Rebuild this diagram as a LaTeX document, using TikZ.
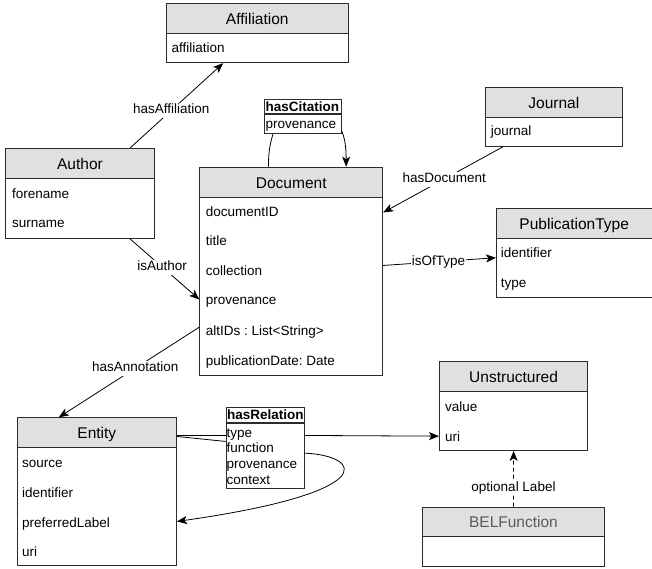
\documentclass[tikz,border=0pt]{standalone}
\usepackage{fontspec}
\setmainfont{Liberation Sans}
\usetikzlibrary{arrows.meta}
\frenchspacing
\definecolor{hdrfill}{HTML}{E0E0E0}
\definecolor{linec}{HTML}{2B2B2B}
\definecolor{belc}{HTML}{5A5A5A}
\tikzset{
  hdr/.style={draw=linec, fill=hdrfill, line width=0.9pt, inner sep=0pt, anchor=north west,
    font=\fontsize{15.5}{18}\selectfont, text height=12pt, text depth=0pt},
  bdy/.style={draw=linec, fill=white, line width=0.9pt, inner sep=0pt, anchor=north west},
  rowtxt/.style={anchor=west, inner sep=0pt, font=\fontsize{13.5}{16}\selectfont, text height=10pt, text depth=1pt},
  reltxt/.style={anchor=west, inner sep=0pt, font=\fontsize{13.5}{15}\selectfont, text height=10pt, text depth=1pt},
  lbl/.style={fill=white, inner sep=1pt, font=\fontsize{13.5}{16}\selectfont, text height=10pt, text depth=3pt},
  conn/.style={draw=black, line width=0.8pt},
  arr/.style={conn, -{Stealth[length=10pt,width=8pt,inset=2.5pt]}},
}
\begin{document}
\begin{tikzpicture}[x=1pt,y=-1pt]
\useasboundingbox (0,0) rectangle (652,569);

% Affiliation
\node[hdr, minimum width=182.3pt, minimum height=30pt] (aff) at (165.7,3.3) {Affiliation};
\node[bdy, minimum width=182.3pt, minimum height=29pt] (affb) at (165.7,33.3) {};
\node[rowtxt] (affr1) at (171.5,48) {affiliation};

% Author
\node[hdr, minimum width=149pt, minimum height=30pt] (author) at (5,148.3) {Author};
\node[bdy, minimum width=149pt, minimum height=59.4pt] (authorb) at (5,178.3) {};
\node[rowtxt] (authorr1) at (12,194) {forename};
\node[rowtxt] (authorr2) at (12,223) {surname};

% Journal
\node[hdr, minimum width=136.7pt, minimum height=30pt] (jour) at (485,86.7) {Journal};
\node[bdy, minimum width=136.7pt, minimum height=29.3pt] (jourb) at (485,116.7) {};
\node[rowtxt] (jourr1) at (490.7,131.5) {journal};

% Document
\node[hdr, minimum width=183pt, minimum height=30pt] (doc) at (199.3,166.7) {Document};
\node[bdy, minimum width=183pt, minimum height=178.3pt] (docb) at (199.3,196.7) {};
\node[rowtxt] (docr1) at (205.7,211.7) {documentID};
\node[rowtxt] (docr2) at (205.7,241.2) {title};
\node[rowtxt] (docr3) at (205.7,270.7) {collection};
\node[rowtxt] (docr4) at (205.7,300.2) {provenance};
\node[rowtxt] (docr5) at (205.7,330.5) {altIDs : List<String>};
\node[rowtxt] (docr6) at (205.7,360.5) {publicationDate: Date};

% PublicationType
\node[hdr, minimum width=155.5pt, minimum height=30pt] (pub) at (496,208.3) {PublicationType};
\node[bdy, minimum width=155.5pt, minimum height=58.4pt] (pubb) at (496,238.3) {};
\node[rowtxt] (pubr1) at (500.7,253) {identifier};
\node[rowtxt] (pubr2) at (500.7,283) {type};

% Unstructured
\node[hdr, minimum width=148.3pt, minimum height=29.7pt] (uns) at (439,361) {Unstructured};
\node[bdy, minimum width=148.3pt, minimum height=59.3pt] (unsb) at (439,390.7) {};
\node[rowtxt] (unsr1) at (445,406.7) {value};
\node[rowtxt] (unsr2) at (445,436.5) {uri};

% BELFunction
\node[hdr, minimum width=182.6pt, minimum height=29.3pt, text=belc] (bel) at (421.7,506.7) {BELFunction};
\node[bdy, minimum width=182.6pt, minimum height=30pt] (belb) at (421.7,536) {};

% Entity
\node[hdr, minimum width=159.3pt, minimum height=29.4pt] (ent) at (16.7,417.3) {Entity};
\node[bdy, minimum width=159.3pt, minimum height=118.3pt] (entb) at (16.7,446.7) {};
\node[rowtxt] (entr1) at (22,462.7) {source};
\node[rowtxt] (entr2) at (22,492.7) {identifier};
\node[rowtxt] (entr3) at (22,522.7) {preferredLabel};
\node[rowtxt] (entr4) at (22,551.7) {uri};

% hasCitation box
\node[draw=linec, fill=white, line width=0.9pt, inner sep=0pt, anchor=north west,
  minimum width=77pt, minimum height=34pt] (cit) at (264,99.3) {};
\node[reltxt, font=\bfseries\fontsize{13.5}{15}\selectfont] (citt) at (265.5,106.8) {hasCitation};
\draw[linec, line width=1.6pt] ([yshift=-14.7pt]cit.north west) -- ([yshift=-14.7pt]cit.north east);
\node[reltxt] (citr1) at (265.5,124) {provenance};

% hasRelation box
\node[draw=linec, fill=white, line width=0.9pt, inner sep=0pt, anchor=north west,
  minimum width=78.6pt, minimum height=81pt] (rel) at (225.7,407.3) {};
\node[reltxt, font=\bfseries\fontsize{13.5}{15}\selectfont] (relt) at (227,414.8) {hasRelation};
\draw[linec, line width=1.6pt] ([yshift=-15.4pt]rel.north west) -- ([yshift=-15.4pt]rel.north east);
\node[reltxt] (relr1) at (226.5,432.5) {type};
\node[reltxt] (relr2) at (226.5,448.3) {function};
\node[reltxt] (relr3) at (226.5,464.3) {provenance};
\node[reltxt] (relr4) at (226.5,480) {context};

% Connectors
\draw[arr] ([xshift=49.8pt]author.north) -- node[lbl, pos=0.445] (l1) {hasAffiliation} ([xshift=-34.15pt]affb.south);
\draw[arr] ([xshift=49.8pt]authorb.south) -- node[lbl, pos=0.467] (l2) {isAuthor} ([yshift=-13.15pt]docb.west);
\draw[arr] ([yshift=-40.85pt]docb.west) -- node[lbl, pos=0.456] (l3) {hasAnnotation} ([xshift=-38pt]ent.north);
\draw[arr] ([xshift=-51pt]jourb.south) -- node[lbl, pos=0.49] (l4) {hasDocument} ([yshift=73.85pt]docb.east);
\draw[arr] ([yshift=20.85pt]docb.east) -- node[lbl, pos=0.49, inner sep=0.5pt] (l5) {isOfType} ([yshift=10.2pt]pubb.west);

% hasCitation self loop
\draw[conn] ([xshift=-22.8pt]doc.north) .. controls +(0,-15) and +(-3,10) .. ([xshift=-30pt]cit.south);
\draw[arr] ([yshift=3pt]cit.south east) .. controls +(4,10) and +(0,-14) .. ([xshift=54.9pt]doc.north);

% hasRelation
\draw[conn] ([yshift=-3pt]ent.east) -- ([yshift=12.8pt]rel.west);
\draw[conn] ([yshift=-4pt]ent.east) -- ([yshift=6.8pt]rel.west);
\draw[arr] ([yshift=12.8pt]rel.east) -- ([yshift=-15.35pt]unsb.west);
\draw[arr] ([yshift=-4.9pt]rel.east) .. controls +(58,3) and +(204,-29) .. ([yshift=-15.15pt]entb.east);

% optional label
\draw[arr, dashed, dash pattern=on 4pt off 3pt] (bel.north) -- node[lbl, pos=0.34] (l6) {optional Label} (unsb.south);
\end{tikzpicture}
\end{document}
